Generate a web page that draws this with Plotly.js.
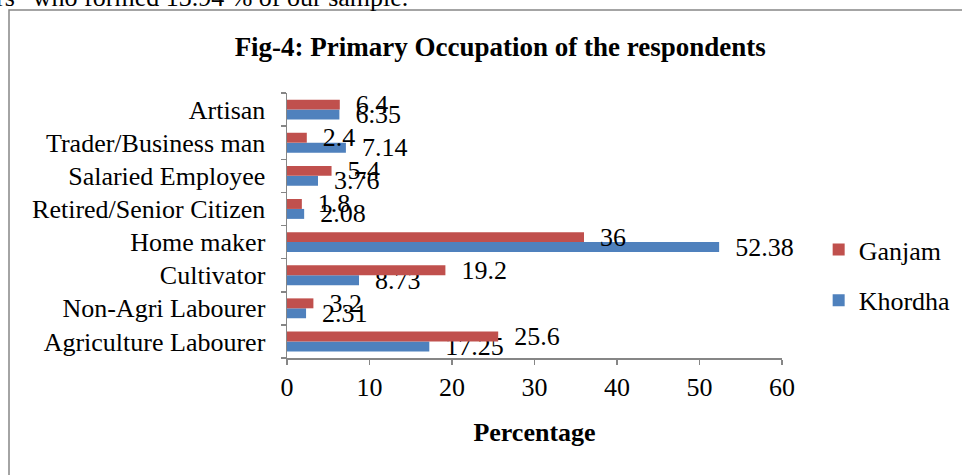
<!DOCTYPE html>
<html>
<head>
<meta charset="utf-8">
<script src="https://cdn.plot.ly/plotly-3.0.1.min.js"></script>
<style>
  html, body { margin: 0; padding: 0; background: #ffffff; }
  #chart { width: 962px; height: 475px; }
</style>
</head>
<body>
<div id="chart"></div>
<script>
// Categories listed bottom-to-top as drawn on the category axis
const categories = [
  "Agriculture Labourer",
  "Non-Agri Labourer",
  "Cultivator",
  "Home maker",
  "Retired/Senior Citizen",
  "Salaried Employee",
  "Trader/Business man",
  "Artisan"
];
const ganjam  = [25.6, 3.2, 19.2, 36, 1.8, 5.4, 2.4, 6.4];
const khordha = [17.25, 2.31, 8.73, 52.38, 2.08, 3.76, 7.14, 6.35];
const xTicks = [0, 10, 20, 30, 40, 50, 60];

const serif = "Liberation Serif";
const labelFont = { family: serif, size: 26, color: "#000000" };

const traces = [
  {
    type: "bar", orientation: "h", name: "Khordha",
    y: categories, x: khordha,
    marker: { color: "#4F81BD" },
    text: khordha.map(String),
    texttemplate: "\u00a0\u00a0%{text}",
    textposition: "outside",
    textfont: labelFont,
    outsidetextfont: labelFont,
    constraintext: "none",
    cliponaxis: false,
    legendgroup: "k",
    legendrank: 2,
    hoverinfo: "x+y"
  },
  {
    type: "bar", orientation: "h", name: "Ganjam",
    y: categories, x: ganjam,
    marker: { color: "#C0504D" },
    text: ganjam.map(String),
    texttemplate: "\u00a0\u00a0%{text}",
    textposition: "outside",
    textfont: labelFont,
    outsidetextfont: labelFont,
    constraintext: "none",
    cliponaxis: false,
    legendgroup: "g",
    legendrank: 1,
    hoverinfo: "x+y"
  }
];

const layout = {
  width: 962, height: 475,
  margin: { l: 287, r: 180, t: 93, b: 117, pad: 0, autoexpand: false },
  paper_bgcolor: "#ffffff",
  plot_bgcolor: "#ffffff",
  font: { family: serif, size: 26, color: "#000000" },
  barmode: "group",
  bargap: 0.4,
  bargroupgap: 0,
  showlegend: true,
  title: {
    text: "<b>Fig-4: Primary Occupation of the respondents</b>",
    font: { family: serif, size: 27, color: "#000000" },
    xref: "container", x: 0.52, xanchor: "center",
    yref: "container", y: 0.903, yanchor: "middle"
  },
  xaxis: {
    range: [0, 60],
    tickvals: xTicks,
    ticktext: xTicks.map(String),
    showgrid: false, zeroline: false,
    showline: true, linecolor: "#868686", linewidth: 1.5,
    ticks: "outside", ticklen: 5, tickcolor: "#868686", tickwidth: 1.5,
    ticklabelstandoff: 0,
    tickfont: { family: serif, size: 26, color: "#000000" },
    title: { text: "<b>Percentage</b>", font: { family: serif, size: 26, color: "#000000" }, standoff: 22 },
    fixedrange: true
  },
  yaxis: {
    type: "category",
    categoryorder: "array",
    categoryarray: categories,
    showgrid: false, zeroline: false,
    showline: true, linecolor: "#868686", linewidth: 1.5,
    ticks: "outside", ticklen: 5, tickcolor: "#868686", tickwidth: 1.5,
    tickson: "boundaries",
    ticklabelstandoff: 15,
    tickfont: { family: serif, size: 26, color: "#000000" },
    fixedrange: true
  },
  legend: {
    traceorder: "grouped",
    tracegroupgap: 14,
    xref: "container", x: 0.851, xanchor: "left",
    y: 0.313, yanchor: "middle",
    itemwidth: 30,
    font: { family: serif, size: 26, color: "#000000" },
    bgcolor: "rgba(0,0,0,0)"
  },
  shapes: [
    {
      type: "rect", xref: "paper", yref: "paper",
      x0: (9 - 287) / 495, x1: 1.6,
      y0: -0.6, y1: (358 - 10) / 265,
      line: { color: "#868686", width: 1.5 },
      fillcolor: "rgba(0,0,0,0)",
      layer: "below"
    }
  ],
  annotations: [
    {
      text: "rs\u201d who formed 13.94 % of our sample.",
      xref: "paper", yref: "paper",
      x: (0 - 287) / 495, xanchor: "left", xshift: -6,
      y: (358 - 14) / 265, yanchor: "bottom",
      showarrow: false,
      font: { family: serif, size: 26, color: "#000000" }
    }
  ]
};

Plotly.newPlot("chart", traces, layout, { displayModeBar: false, staticPlot: true });
</script>
</body>
</html>
